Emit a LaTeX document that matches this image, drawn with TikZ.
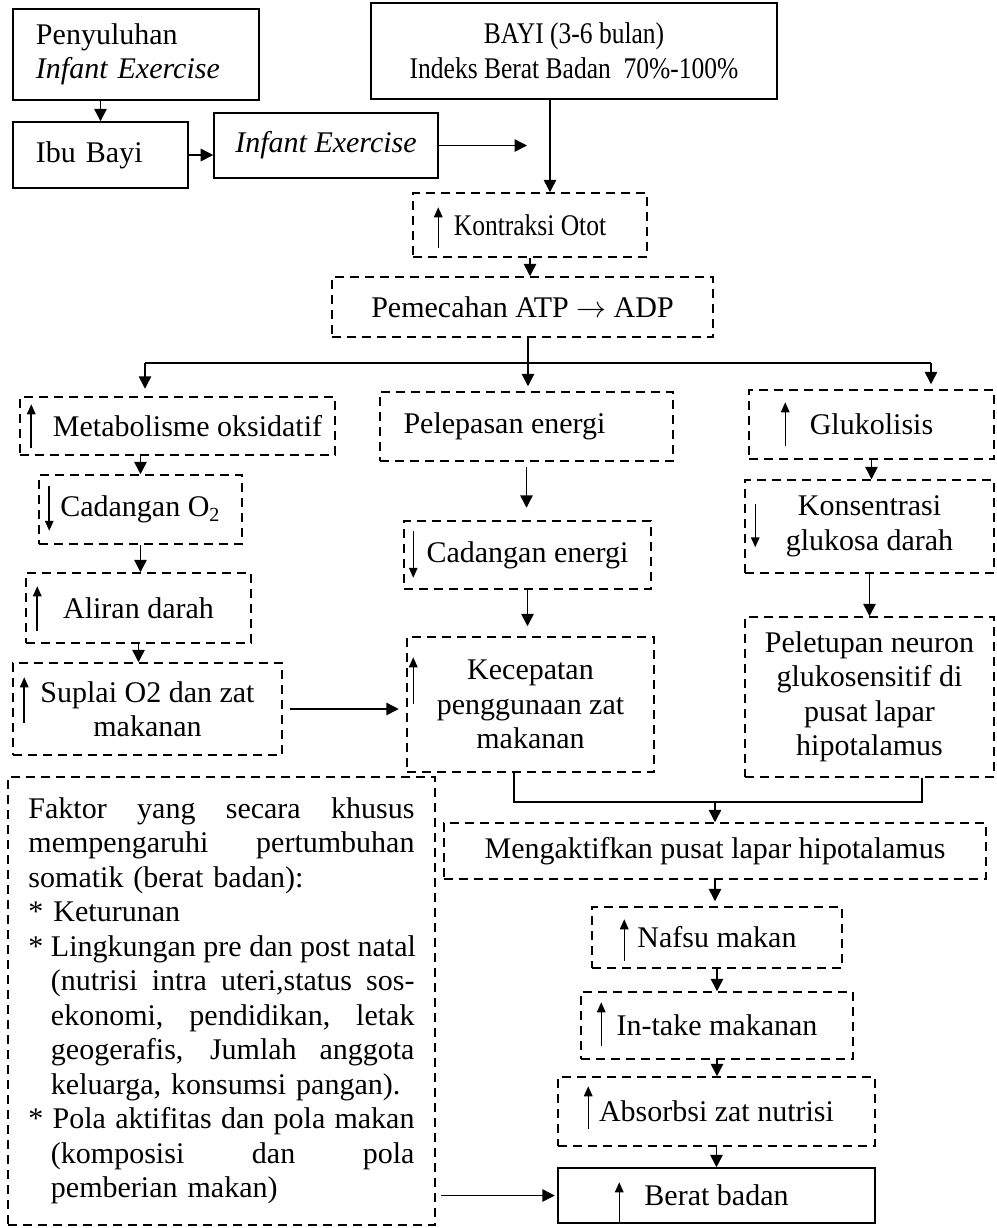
\documentclass[tikz,border=0pt]{standalone}
\usepackage{fontspec}
\setmainfont{Liberation Serif}
\newfontfamily\narrowfont{Liberation Serif}[FakeStretch=0.85]
\usetikzlibrary{arrows.meta,calc}
\tikzset{>={Triangle[length=5pt,width=5pt]}}
\newlength{\fakw}
\setlength{\fakw}{154.4pt}
\newlength{\fakh}
\setlength{\fakh}{145.4pt}
\newcommand{\fullline}[1]{\leavevmode\hbox to\fakw{\spaceskip=3pt plus 1fil\relax#1}}
\newcommand{\hangline}[1]{\leavevmode\hspace*{9pt}\hbox to\fakh{\spaceskip=3pt plus 1fil\relax#1}}

\begin{document}
\begin{tikzpicture}[x=0.4pt,y=-0.4pt,
    box/.style={draw,line width=0.6pt,align=center,inner sep=2pt,font=\fontsize{12}{13.8}\selectfont},
    dbox/.style={box,dash pattern=on 3.6pt off 2.4pt},
    narrow/.style={font=\fontsize{12}{13.8}\narrowfont},
    con/.style={->,line width=0.6pt},
    wire/.style={line width=0.6pt},
    inarr/.style={-{Triangle[length=4pt,width=3.4pt]},line width=0.6pt}]
  \useasboundingbox (0,0) rectangle (997,1228);

  \node[box,minimum width=98.4pt,minimum height=36.4pt,text width=80pt,align=left] (pen) at (136,54.5) {Penyuluhan\\\textit{Infant Exercise}};
  \node[box,minimum width=70pt,minimum height=26.4pt,text width=51.6pt,align=left] (ibu) at (100.5,155) {Ibu Bayi};
  \node[box,minimum width=89.6pt,minimum height=26pt] (inf) at (326,145.5) {\textit{Infant Exercise}};
  \node[box,narrow,minimum width=162.4pt,minimum height=38.4pt] (bayi) at (574,51) {BAYI (3-6 bulan)\\Indeks Berat Badan~~70\%-100\%};
  \node[dbox,narrow,minimum width=93.6pt,minimum height=25.6pt] (kon) at (530,225) {Kontraksi Otot};
  \node[dbox,minimum width=152.4pt,minimum height=24pt] (pem) at (522.5,307) {Pemecahan ATP $\rightarrow$ ADP};

  \node[dbox,minimum width=126pt,minimum height=23.2pt] (met) at (177.5,426) {\hspace*{8pt}Metabolisme oksidatif};
  \node[dbox,minimum width=81.2pt,minimum height=27.6pt] (o2) at (140.5,509.5) {Cadangan O\textsubscript{2}};
  \node[dbox,minimum width=90pt,minimum height=28pt] (ali) at (138.5,608) {Aliran darah};
  \node[dbox,minimum width=107.6pt,minimum height=36.8pt] (sup) at (147.5,709) {Suplai O2 dan zat\\makanan};

  \node[dbox,minimum width=117.2pt,minimum height=27.6pt] (pel) at (526.5,426.5) {Pelepasan energi\hspace*{17.6pt}};
  \node[dbox,minimum width=98.8pt,minimum height=27.2pt] (cen) at (527.5,555) {Cadangan energi};
  \node[dbox,minimum width=98.8pt,minimum height=54pt] (kec) at (530.5,704.5) {Kecepatan\\penggunaan zat\\makanan};

  \node[dbox,minimum width=98pt,minimum height=27.6pt] (glu) at (871.5,424.5) {Glukolisis};
  \node[dbox,minimum width=99.6pt,minimum height=37.2pt] (kgd) at (869.5,526.5) {Konsentrasi\\glukosa darah};
  \node[dbox,minimum width=99.6pt,minimum height=64pt] (neu) at (869.5,697) {Peletupan neuron\\glukosensitif di\\pusat lapar\\hipotalamus};

  \node[dbox,minimum width=216.8pt,minimum height=22.4pt] (men) at (715,851) {Mengaktifkan pusat lapar hipotalamus};
  \node[dbox,minimum width=100pt,minimum height=24.4pt] (naf) at (717,937.5) {Nafsu makan};
  \node[dbox,minimum width=108.8pt,minimum height=26.8pt] (int) at (717,1025.5) {In-take makanan};
  \node[dbox,minimum width=126.8pt,minimum height=27.6pt] (abs) at (716.5,1111.5) {Absorbsi zat nutrisi};
  \node[box,minimum width=126.8pt,minimum height=22pt] (ber) at (716.5,1195.5) {Berat badan};

  \node[dbox,minimum width=170.8pt,minimum height=179.2pt,text width=\fakw,align=left] (fak) at (221.5,1001) {%
    \fullline{Faktor yang secara khusus}\\
    \fullline{mempengaruhi pertumbuhan}\\
    somatik (berat badan):\\
    {*} Keturunan\\
    \fullline{* Lingkungan pre dan post natal}\\
    \hangline{(nutrisi intra uteri,status sos-}\\
    \hangline{ekonomi, pendidikan, letak}\\
    \hangline{geogerafis, Jumlah anggota}\\
    \hspace*{9pt}keluarga, konsumsi pangan).\\
    \fullline{* Pola aktifitas dan pola makan}\\
    \hangline{(komposisi dan pola}\\
    \hspace*{9pt}pemberian makan)};

  \draw[inarr] ($(kon.south west)+(26,-10)$) -- ($(kon.north west)+(26,15)$);
  \draw[inarr] ($(met.south west)+(12,-8)$) -- ($(met.north west)+(12,8)$);
  \draw[inarr] ($(o2.north west)+(11,12)$) -- ($(o2.south west)+(11,-14)$);
  \draw[inarr] ($(ali.south west)+(12,-13)$) -- ($(ali.north west)+(12,14)$);
  \draw[inarr] ($(sup.south west)+(12,-33)$) -- ($(sup.north west)+(12,15)$);
  \draw[inarr] ($(cen.north west)+(10,11)$) -- ($(cen.south west)+(10,-12)$);
  \draw[inarr] ($(kec.north west)+(7,68)$) -- ($(kec.north west)+(7,21)$);
  \draw[inarr] ($(glu.south west)+(37,-14)$) -- ($(glu.north west)+(37,13)$);
  \draw[inarr] ($(kgd.north west)+(11,25)$) -- ($(kgd.north west)+(11,68)$);
  \draw[inarr] ($(naf.south west)+(33,-8)$) -- ($(naf.north west)+(33,13)$);
  \draw[inarr] ($(int.south west)+(21,-14)$) -- ($(int.north west)+(21,11)$);
  \draw[inarr] ($(abs.south west)+(31,-18)$) -- ($(abs.north west)+(31,10)$);
  \draw[inarr] ($(ber.south west)+(62,0)$) -- ($(ber.north west)+(62,15)$);

  \draw[con] (pen.south -| ibu.north) -- (ibu.north);
  \draw[con] (ibu.east) -- (ibu.east -| inf.west);
  \coordinate (infend) at (527,145.5);
  \draw[con] (inf.east) -- (infend);
  \coordinate (trunk) at (550,0);
  \draw[con] (bayi.south -| trunk) -- (kon.north -| trunk);
  \draw[con] (kon.south) -- (kon.south |- pem.north);
  \coordinate (sl) at (145,363);
  \coordinate (sm) at (528,363);
  \coordinate (sr) at (931,363);
  \draw[wire] (pem.south -| sm) -- (sm);
  \draw[wire] (sl) -- (sr);
  \draw[con,shorten >=3pt] (sl) -- (sl |- met.north);
  \draw[con,shorten >=2pt] (sm) -- (sm |- pel.north);
  \draw[con,shorten >=2pt] (sr) -- (sr |- glu.north);

  \draw[con] (met.south -| o2.north) -- (o2.north);
  \draw[con] (o2.south) -- (o2.south |- ali.north);
  \draw[con] (ali.south) -- (ali.south |- sup.north);
  \draw[con,shorten <=3pt,shorten >=3pt] (sup.east) -- (sup.east -| kec.west);

  \draw[con,shorten <=2pt,shorten >=5pt] (pel.south) -- (pel.south |- cen.north);
  \draw[con,shorten >=4pt] (cen.south) -- (cen.south |- kec.north);

  \draw[con] (glu.south) -- (glu.south |- kgd.north);
  \draw[con] (kgd.south) -- (kgd.south |- neu.north);

  \coordinate (jl) at (514,802);
  \coordinate (jr) at (922,802);
  \draw[wire] (kec.south -| jl) -- (jl) -- (jr) -- (neu.south -| jr);
  \draw[con] (men.north |- jl) -- (men.north);
  \draw[con,shorten >=2pt] (men.south) -- (men.south |- naf.north);
  \draw[con] (naf.south) -- (naf.south |- int.north);
  \draw[con] (int.south) -- (int.south |- abs.north);
  \draw[con] (abs.south) -- (abs.south |- ber.north);
  \draw[con,shorten <=2pt,shorten >=1pt] (fak.east |- ber.west) -- (ber.west);
\end{tikzpicture}
\end{document}
